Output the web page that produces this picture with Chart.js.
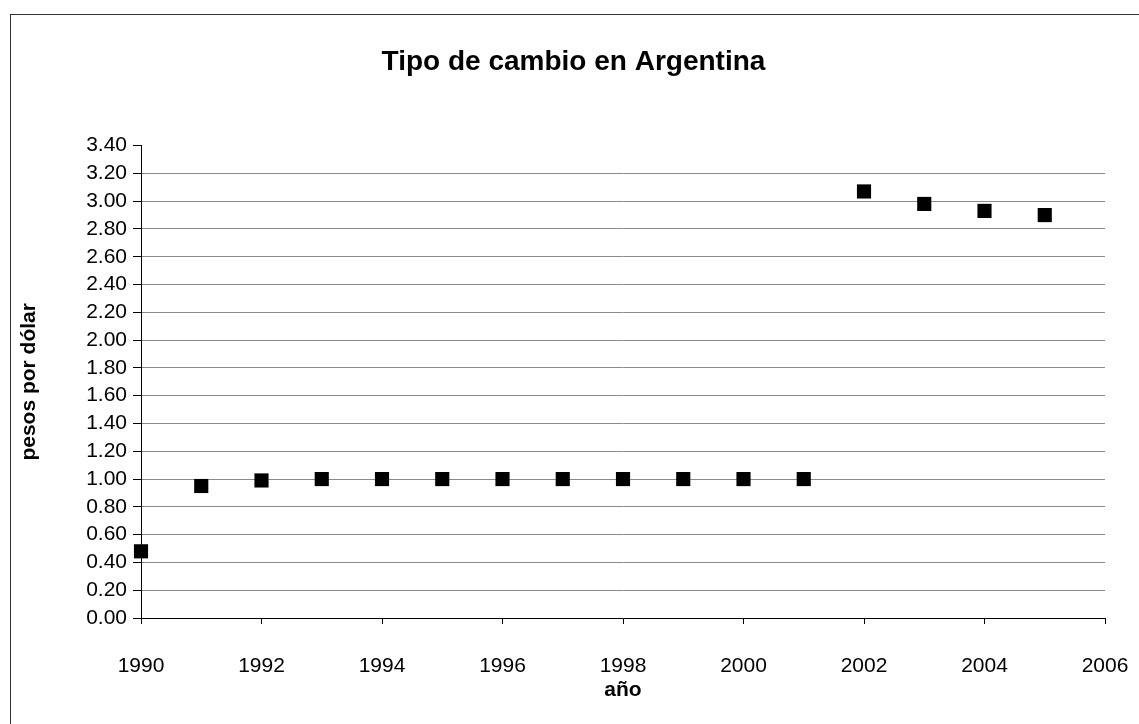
<!DOCTYPE html>
<html>
<head>
<meta charset="utf-8">
<script src="https://cdn.jsdelivr.net/npm/chart.js@4.4.1/dist/chart.umd.min.js"></script>
<style>
  html, body { margin: 0; padding: 0; background: #fff; }
  #wrap { position: relative; width: 1139px; height: 724px; }
  #frame { position: absolute; left: 10px; top: 14px; width: 1140px; height: 720px;
           border-left: 1px solid #333; border-top: 1px solid #333; }
  canvas { position: absolute; left: 0; top: 0; }
</style>
</head>
<body>
<div id="wrap">
  <div id="frame"></div>
  <canvas id="chart" width="1139" height="724"></canvas>
</div>
<script>
// datos
const years = [1990, 1991, 1992, 1993, 1994, 1995, 1996, 1997, 1998, 1999, 2000, 2001, 2002, 2003, 2004, 2005];
const rates = [0.48, 0.95, 0.99, 1.00, 1.00, 1.00, 1.00, 1.00, 1.00, 1.00, 1.00, 1.00, 3.07, 2.98, 2.93, 2.90];

const xMin = 1990, xMax = 2006, xStep = 2;
const yMin = 0, yMax = 3.4, yStep = 0.2;

const font = "'Liberation Sans', Arial, sans-serif";

const points = years.map((y, i) => ({ x: y, y: rates[i] }));

const ctx = document.getElementById("chart").getContext("2d");
new Chart(ctx, {
  type: "scatter",
  data: {
    datasets: [{
      label: "pesos por dólar",
      data: points,
      pointStyle: "rect",
      pointRadius: 10,
      backgroundColor: "#000",
      borderColor: "#000",
      borderWidth: 0,
      clip: false
    }]
  },
  options: {
    responsive: false,
    animation: false,
    layout: { padding: { left: 8, right: 0, top: 45, bottom: 21 } },
    plugins: {
      legend: { display: false },
      tooltip: { enabled: false },
      title: {
        display: true,
        text: "Tipo de cambio en Argentina",
        color: "#000",
        font: { family: font, size: 28, weight: "bold" },
        padding: { top: 0, bottom: 67 }
      }
    },
    scales: {
      x: {
        type: "linear",
        min: xMin, max: xMax,
        // alto fijo del eje y margen derecho del area
        afterFit: s => { s.height = 85; s.paddingRight = 34; s.paddingLeft = 0; },
        ticks: {
          stepSize: xStep,
          color: "#000",
          font: { family: font, size: 21 },
          padding: 30,
          maxRotation: 0,
          autoSkip: false,
          callback: v => String(v)
        },
        grid: { drawOnChartArea: false, tickLength: 6, tickColor: "#000" },
        border: { color: "#000", width: 1 },
        title: {
          display: true, text: "año", color: "#000",
          font: { family: font, size: 21, weight: "bold" },
          padding: { top: 0, bottom: 0 }
        }
      },
      y: {
        min: yMin, max: yMax,
        afterFit: s => { s.width = 133; },
        ticks: {
          stepSize: yStep,
          color: "#000",
          font: { family: font, size: 21 },
          padding: 6,
          autoSkip: false,
          callback: v => Number(v).toFixed(2)
        },
        grid: {
          color: c => (Math.abs(c.tick.value - yMax) < 1e-6 ? "rgba(0,0,0,0)" : "#8a8a8a"),
          tickColor: "#000",
          tickLength: 8
        },
        border: { color: "#000", width: 1 },
        title: {
          display: true, text: "pesos por dólar", color: "#000",
          font: { family: font, size: 21, weight: "bold" },
          padding: { top: 9, bottom: 10 }
        }
      }
    }
  }
});
</script>
</body>
</html>
